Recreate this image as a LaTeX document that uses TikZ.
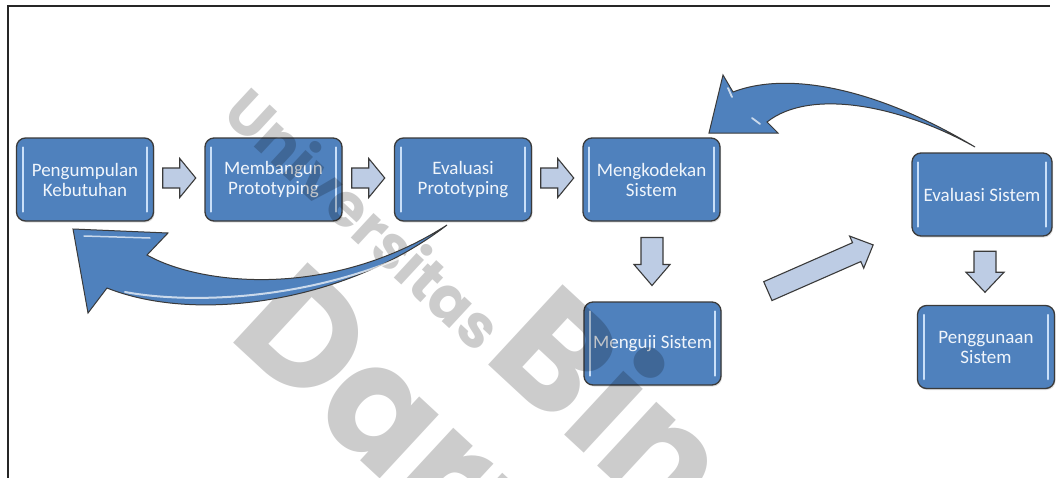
\documentclass[tikz,border=0pt]{standalone}
\usepackage{fontspec}
\newfontfamily\boxfont{Carlito}
\newfontfamily\wmfont{Poppins}
\usetikzlibrary{calc,shadows}
\definecolor{boxblue}{HTML}{4F81BD}
\definecolor{boxedge}{HTML}{3A3A3A}
\definecolor{boxtext}{HTML}{F0F5FB}
\definecolor{arrfill}{HTML}{BDCCE4}
\definecolor{glossc}{HTML}{C9DFF8}
\newcommand{\blockarr}[6]{%
  \begin{scope}[shift={#1},rotate=#2]
    \filldraw[barrow] (-#3/2,-#4) -- (#3/2-#6,-#4) -- (#3/2-#6,-#5) -- (#3/2,0)
      -- (#3/2-#6,#5) -- (#3/2-#6,#4) -- (-#3/2,#4) -- cycle;
  \end{scope}}
\tikzset{
  stepbox/.style={draw=boxedge, line width=1.3pt, fill=boxblue, rounded corners=9pt,
    minimum width=137pt, minimum height=83pt, text=boxtext, align=center,
    font=\boxfont\fontsize{19}{20}\selectfont, inner sep=1pt,
    drop shadow={shadow xshift=1pt, shadow yshift=-1.5pt, opacity=0.25}},
  barrow/.style={fill=arrfill, draw=boxedge, line width=1.1pt, line join=miter},
  curvarrow/.style={fill=boxblue, draw=boxedge, line width=1pt, line join=miter},
  gloss/.style={draw=glossc, line width=2.2pt, line cap=round},
  shine/.style={draw=white, line cap=round, opacity=0.7},
  frameline/.style={draw=black!85, line width=1.2pt},
  wm/.style={rotate=-42.8, anchor=base west, inner sep=0pt, text=black, text opacity=0.2, font=\wmfont\bfseries}
}
\begin{document}
\begin{tikzpicture}[x=1pt,y=-1pt]
\useasboundingbox (0,0) rectangle (1060,477);
\clip (0,0) rectangle (1060,477);
\fill[white] (0,0) rectangle (1060,477);
\draw[frameline] (8,480) -- (8,6) -- (1050,6);

% boxes
\node[stepbox] (b1) at (85,179.5) {Pengumpulan\\Kebutuhan};
\node[stepbox] (b2) at (273.5,179.5) {Membangun\\Prototyping};
\node[stepbox] (b3) at (463,179.5) {Evaluasi\\Prototyping};
\node[stepbox] (b4) at (651.5,179.5) {Mengkodekan\\Sistem};
\node[stepbox, minimum width=140pt] (b5) at (982,194.5) {Evaluasi Sistem};
\node[stepbox] (b6) at (652.5,343.5) {Menguji Sistem};
\node[stepbox] (b7) at (986,347) {Penggunaan\\Sistem};

\foreach \n in {b1,b2,b3,b4,b5,b6,b7}{
  \draw[gloss] ($(\n.north west)+(7,10)$) -- ($(\n.south west)+(7,-10)$);
  \draw[gloss] ($(\n.north east)+(-7,10)$) -- ($(\n.south east)+(-7,-10)$);
}

% block arrows
\blockarr{($(b1.east)!0.5!(b2.west)+(0,-1.5)$)}{0}{33}{10}{19.5}{16}
\blockarr{($(b2.east)!0.5!(b3.west)+(0,-1.5)$)}{0}{33}{10}{19.5}{16}
\blockarr{($(b3.east)!0.5!(b4.west)+(0,-1.5)$)}{0}{33}{10}{19.5}{16}
\blockarr{($(b4.south)!0.5!(b6.north)$)}{-90}{48}{11}{18}{21}
\blockarr{($(b5.south)!0.5!(b7.north)+(1,1)$)}{-90}{41}{11}{19}{20}
\coordinate (diag) at (820.5,268);
\blockarr{(diag)}{23.7}{115}{10.3}{17.5}{18}

% watermark
\node[wm] (wm1) at (220,116) {\fontsize{60}{60}\selectfont Universitas\hspace{6pt}\fontsize{156}{156}\selectfont Bina};
\node[wm] (wm2) at (226,336) {\fontsize{156}{156}\selectfont Darma};

% curved arrow: Evaluasi Prototyping back to Pengumpulan Kebutuhan
\coordinate (c1tail) at (447,225);
\filldraw[curvarrow] (c1tail) .. controls (350,300) and (200,325) .. (107,288)
  -- (88,313) -- (73,229) -- (168,233) -- (147,255)
  .. controls (200,285) and (330,300) .. (c1tail) -- cycle;
\draw[shine, line width=2pt] (125,292) .. controls (190,304) and (300,300) .. (400,258);
\draw[shine, line width=1.5pt] (84,236) -- (150,238);

% curved arrow: Evaluasi Sistem back to Mengkodekan Sistem
\coordinate (c2tail) at (975,147);
\filldraw[curvarrow] (c2tail) .. controls (900,105) and (810,88) .. (767,122)
  -- (778,133) -- (709,133) -- (723,75) -- (733,92)
  .. controls (790,70) and (880,90) .. (c2tail) -- cycle;
\draw[shine, line width=1.8pt] (728,88) -- (732,97);
\draw[shine, line width=1.8pt] (752,118) -- (760,124);
\end{tikzpicture}
\end{document}
